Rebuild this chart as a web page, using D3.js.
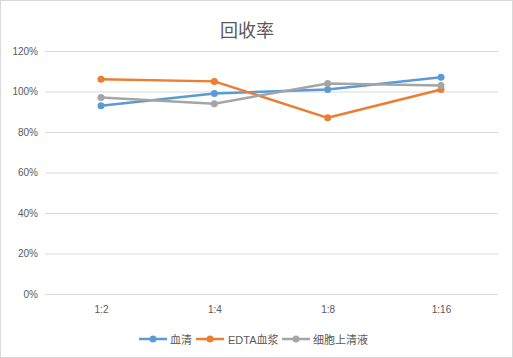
<!DOCTYPE html>
<html><head><meta charset="utf-8">
<script src="https://cdn.jsdelivr.net/npm/d3@7/dist/d3.min.js"></script>
<style>body{margin:0;background:#fff}svg{display:block}text{font-family:"Liberation Sans","Noto Sans CJK SC",sans-serif}</style>
</head><body><svg id="c" width="513" height="358"></svg>
<script>
const categories = ["1:2","1:4","1:8","1:16"];
const seriesNames = ["血清","EDTA血浆","细胞上清液"];
const serum = [93, 99, 101, 107];
const edta = [106, 105, 87, 101];
const supernatant = [97, 94, 104, 103];
const yTicks = [0, 20, 40, 60, 80, 100, 120];
const colors = ["#5B9BD5","#ED7D31","#A5A5A5"];
const title = "回收率";

const svg = d3.select("#c");
svg.append("rect").attr("x",0.5).attr("y",0.5).attr("width",512).attr("height",357)
  .attr("fill","#fff").attr("stroke","#d9d9d9");
svg.append("text").attr("x",247).attr("y",37).attr("text-anchor","middle")
  .attr("font-size",18).attr("fill","#595959").style("font-family","'Noto Sans CJK SC',serif").text(title);

const x = d3.scalePoint().domain(categories).range([101,441]);
const y = d3.scaleLinear().domain([0,120]).range([294,51]);

const yAxis = svg.append("g").attr("transform","translate(45,0)")
  .call(d3.axisLeft(y).tickValues(yTicks).tickSize(-453).tickFormat(d=>d+"%"));
yAxis.select(".domain").remove();
yAxis.selectAll("line").attr("stroke","#d9d9d9");
yAxis.selectAll("text").attr("fill","#595959").attr("font-size",10).attr("x",-7);

const xAxis = svg.append("g").attr("transform","translate(0,294)")
  .call(d3.axisBottom(x).tickSize(0));
xAxis.select(".domain").remove();
xAxis.selectAll("text").attr("fill","#595959").attr("font-size",10).attr("dy","0").attr("y",19);

const data = [serum, edta, supernatant];
const line = d3.line().x((d,i)=>x(categories[i])).y(d=>y(d));
data.forEach((s,k)=>{
  svg.append("path").datum(s).attr("d",line).attr("fill","none")
    .attr("stroke",colors[k]).attr("stroke-width",2.5).attr("stroke-linejoin","round");
  svg.selectAll(null).data(s).enter().append("circle")
    .attr("cx",(d,i)=>x(categories[i])).attr("cy",d=>y(d)).attr("r",3.5).attr("fill",colors[k]);
});

// legend
const lg = svg.append("g");
const items = [{x:139},{x:196},{x:282}];
const textX = [170, 228, 313];
seriesNames.forEach((n,k)=>{
  const g = lg.append("g");
  g.append("line").attr("x1",items[k].x).attr("x2",items[k].x+28).attr("y1",339).attr("y2",339)
    .attr("stroke",colors[k]).attr("stroke-width",2.5);
  g.append("circle").attr("cx",items[k].x+14).attr("cy",339).attr("r",3.5).attr("fill",colors[k]);
  g.append("text").attr("x",textX[k]).attr("y",343.5).attr("font-size",11).attr("fill","#595959").text(n);
});
</script></body></html>
